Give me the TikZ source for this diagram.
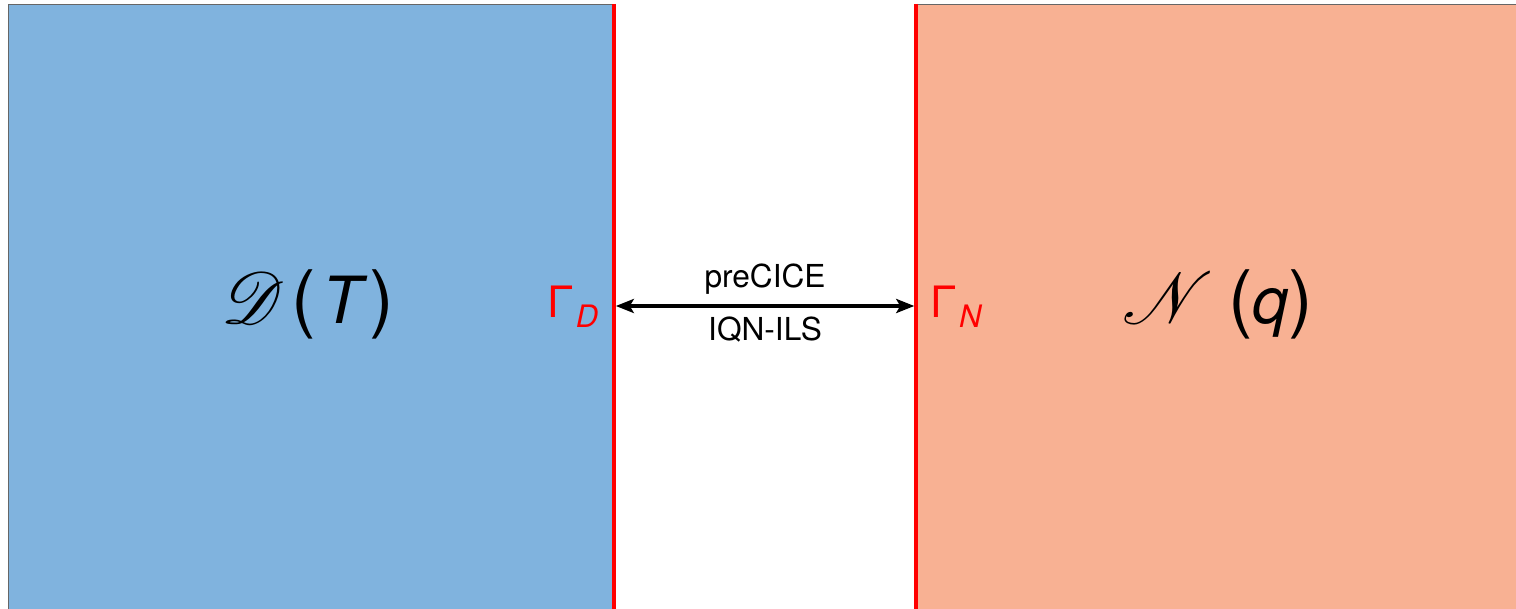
\documentclass[tikz,border=0pt]{standalone}
\usepackage{fontspec}
\setmainfont{TeX Gyre Heros}
\usepackage{mathrsfs}
\usepackage{tikz}
\usetikzlibrary{arrows.meta}

\definecolor{dirblue}{RGB}{128,179,222}
\definecolor{neusalmon}{RGB}{248,177,147}
\newcommand{\bigparen}[1]{{\fontsize{21}{24}\selectfont #1}}
\newcommand{\bigscr}[1]{{\fontsize{21}{24}\selectfont$\mathscr{#1}$}}
\newcommand{\gsub}[1]{\raisebox{-2.6pt}{\fontsize{8.8}{10}\selectfont\kern0.6pt\textit{#1}}}

\begin{document}
\begin{tikzpicture}[x=0.1mm, y=0.1mm,
  regionbox/.style={draw=gray!80!black, line width=0.3pt, inner sep=0pt, anchor=north west},
  iface/.style={red, line width=1pt},
  bigtext/.style={font=\fontsize{18.5}{22}\selectfont, inner sep=0pt},
  gammatext/.style={text=red, font=\fontsize{12.3}{14}\selectfont, inner sep=0pt},
  coupling/.style={font=\fontsize{9}{10.8}\selectfont, inner sep=0pt, anchor=base}]

  \useasboundingbox (0,0) rectangle (1516,608);
  \clip (0,0) rectangle (1516,608);

  % ========== Dirichlet side ==========
  \node[regionbox, fill=dirblue, minimum width=60.5mm, minimum height=64mm] (dir) at (8,604) {};
  \draw[iface] (dir.north east) -- (dir.south east);
  \node[bigtext, anchor=base] (dirlabel) at (308,285) {\bigscr{D}\hspace{2pt}\bigparen{(}\hspace{1.8pt}\textit{T}\hspace{0.5pt}\bigparen{)}};
  \node[gammatext, anchor=base east] (gD) at (599,290) {Γ\gsub{D}};

  % ========== Neumann side ==========
  \node[regionbox, fill=neusalmon, minimum width=62mm, minimum height=64mm] (neu) at (916,604) {};
  \draw[iface] (neu.north west) -- (neu.south west);
  \node[bigtext, anchor=base] (neulabel) at (1218,285) {\bigscr{N}\hspace{4pt}\bigparen{(}\textit{q}\bigparen{)}};
  \node[gammatext, anchor=base west] (gN) at (930,290) {Γ\gsub{N}};

  % --- coupling arrow ---
  \coordinate (cD) at (dir.east |- 0,302);
  \coordinate (cN) at (neu.west |- 0,302);
  \draw[{Stealth[length=1.8mm, width=1.4mm, inset=0.4mm]}-{Stealth[length=1.8mm, width=1.4mm, inset=0.4mm]}, line width=1pt, shorten <=0.5pt, shorten >=0.5pt] (cD) -- (cN)
    node[midway, coupling, yshift=1.9mm] (lib) {preCICE}
    node[midway, coupling, yshift=-3.4mm] (scheme) {IQN-ILS};

\end{tikzpicture}
\end{document}
